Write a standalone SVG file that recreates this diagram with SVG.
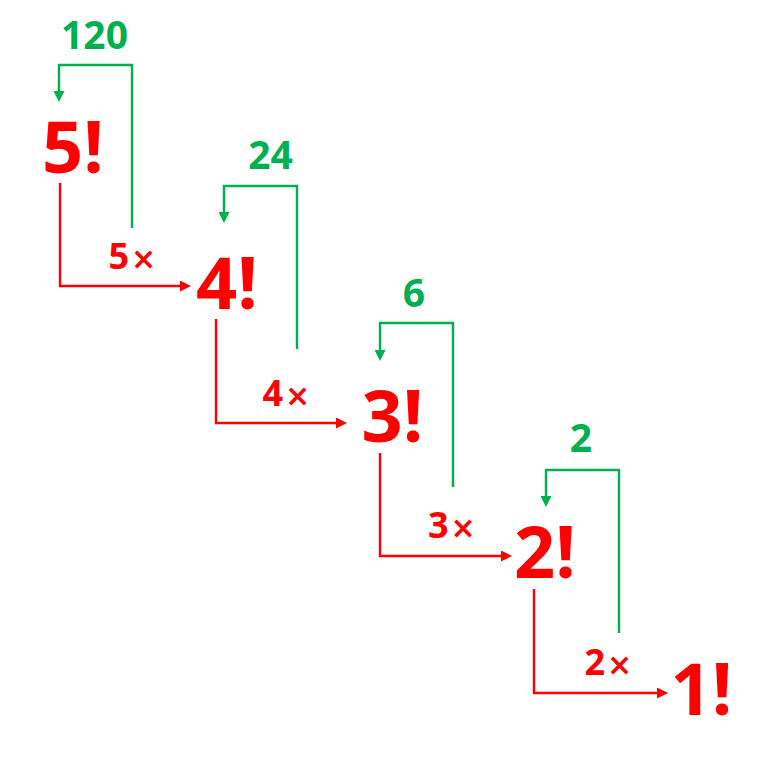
<svg xmlns="http://www.w3.org/2000/svg" width="774" height="771" viewBox="0 0 774 771">
<style>
.big{font-family:"Open Sans","Liberation Sans",sans-serif;font-weight:bold;font-size:72px;fill:#ff0000;text-anchor:middle}
.mul{font-family:"Open Sans","Liberation Sans",sans-serif;font-weight:bold;font-size:36px;fill:#ff0000}
.x{font-family:"DejaVu Sans",sans-serif;font-weight:bold;font-size:30px}
.res{font-family:"Open Sans","Liberation Sans",sans-serif;font-weight:bold;font-size:39px;fill:#00b050;text-anchor:middle}
.g{fill:none;stroke:#00b050;stroke-width:2.4}
.r{fill:none;stroke:#ff0000;stroke-width:2.4}
</style>
<defs>
<marker id="ag" markerUnits="userSpaceOnUse" markerWidth="11" markerHeight="11" refX="0" refY="5.5" orient="auto"><path d="M0,0 L11,5.5 L0,11 z" fill="#00b050"/></marker>
<marker id="ar" markerUnits="userSpaceOnUse" markerWidth="11" markerHeight="11" refX="0" refY="5.5" orient="auto"><path d="M0,0 L11,5.5 L0,11 z" fill="#ff0000"/></marker>
</defs>
<rect width="774" height="771" fill="#ffffff"/>
<g id="connectors">
<path class="g" d="M132,228 V65 H59 V91" marker-end="url(#ag)"/>
<path class="g" d="M297,349 V186 H224 V212" marker-end="url(#ag)"/>
<path class="g" d="M453,487 V323 H380 V350" marker-end="url(#ag)"/>
<path class="g" d="M619,633 V470 H546 V496" marker-end="url(#ag)"/>
<path class="r" d="M60,183 V286 H180" marker-end="url(#ar)"/>
<path class="r" d="M216,319 V423 H336" marker-end="url(#ar)"/>
<path class="r" d="M380,453 V556 H501" marker-end="url(#ar)"/>
<path class="r" d="M534,589 V693 H657" marker-end="url(#ar)"/>
</g>
<g id="node-5"><text class="big" x="73" y="173">5!</text></g>
<g id="node-4"><text class="big" x="227" y="309">4!</text></g>
<g id="node-3"><text class="big" x="392.5" y="442">3!</text></g>
<g id="node-2"><text class="big" x="545" y="578">2!</text></g>
<g id="node-1"><text class="big" x="701.5" y="715">1!</text></g>
<g id="labels">
<text class="res" x="94.5" y="49">120</text>
<text class="res" x="270.5" y="169">24</text>
<text class="res" x="414" y="307">6</text>
<text class="res" x="581" y="452">2</text>
<text class="mul" x="108.5" y="269">5<tspan class="x" dx="2">×</tspan></text>
<text class="mul" x="262.5" y="406">4<tspan class="x" dx="2">×</tspan></text>
<text class="mul" x="428" y="538">3<tspan class="x" dx="2">×</tspan></text>
<text class="mul" x="584.5" y="675">2<tspan class="x" dx="2">×</tspan></text>
</g>
</svg>
